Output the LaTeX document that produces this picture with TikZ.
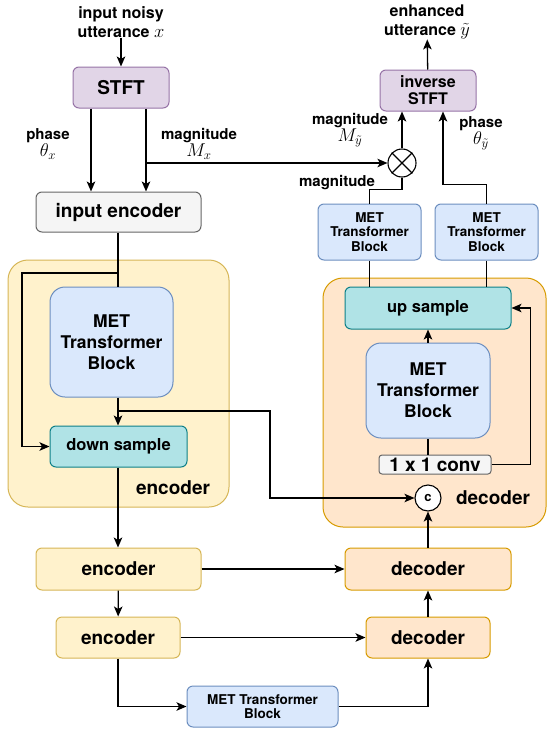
\RequirePackage{fix-cm}
\documentclass[tikz,border=0pt]{standalone}
\usepackage{amsmath}
\usepackage{fontspec}
\setmainfont{TeX Gyre Heros}
\usetikzlibrary{arrows.meta,calc}
\definecolor{stftfill}{HTML}{E1D5E7}
\definecolor{stftline}{HTML}{9673A6}
\definecolor{greyfill}{HTML}{F5F5F5}
\definecolor{greyline}{HTML}{666666}
\definecolor{encfill}{HTML}{FFF2CC}
\definecolor{encline}{HTML}{D6B656}
\definecolor{decfill}{HTML}{FFE6CC}
\definecolor{decline}{HTML}{D79B00}
\definecolor{metfill}{HTML}{DAE8FC}
\definecolor{metline}{HTML}{6C8EBF}
\definecolor{samfill}{HTML}{B0E3E6}
\definecolor{samline}{HTML}{0E8088}
\newcommand{\fs}[1]{\fontsize{#1}{\dimexpr #1pt*6/5\relax}\selectfont\bfseries}
\newcommand{\mth}[1]{{\fontsize{18.5}{20}\selectfont$#1$}}

\tikzset{
  blk/.style={draw,rounded corners=6pt,line width=1pt,inner sep=0pt,align=center},
  arr/.style={-{Stealth[length=10pt,width=8.5pt,inset=2.5pt]}},
  wire/.style={line width=1.3pt},
  lbl/.style={align=center,inner sep=0pt}
}

\begin{document}
\begin{tikzpicture}[x=1pt,y=-1pt]
    \useasboundingbox (0,0) rectangle (550,734);
    % containers
    \node[blk,rounded corners=20pt,fill=encfill,draw=encline,minimum width=221pt,minimum height=247pt] (encbox) at (118.5,383.5) {};
    \node[blk,rounded corners=20pt,fill=decfill,draw=decline,minimum width=223pt,minimum height=249pt] (decbox) at (434.5,402.5) {};
    \node[lbl,font=\fs{19}] (enclbl) at (173,488) {encoder};
    \node[lbl,font=\fs{19}] (declbl) at (493,498) {decoder};

    % top row
    \node[lbl,font=\fs{16}] (intxt) at (121,22) {input noisy\\[0pt]utterance \mth{x}};
    \node[lbl,font=\fs{16}] (outtxt) at (427,22) {enhanced\\[0pt]utterance \mth{\tilde{y}}};
    \node[blk,fill=stftfill,draw=stftline,minimum width=96pt,minimum height=41pt,font=\fs{19}] (stft) at (121,87.5) {STFT};
    \node[blk,fill=stftfill,draw=stftline,minimum width=96pt,minimum height=41pt,font=\fs{16}] (istft) at (428,90.5) {inverse\\[-2pt]STFT};
    \node[blk,fill=greyfill,draw=greyline,minimum width=165pt,minimum height=40pt,font=\fs{19}] (inenc) at (118.5,212) {input encoder};
    \node[lbl,font=\fs{15}] (phx) at (48,144) {phase\\[-1pt]\mth{\theta_x}};
    \node[lbl,font=\fs{15}] (mgx) at (199,144) {magnitude\\[-1pt]\mth{M_x}};
    \node[lbl,font=\fs{15}] (mgy) at (350,130) {magnitude\\[-1pt]\mth{M_{\tilde{y}}}};
    \node[lbl,font=\fs{15}] (phy) at (481,133) {phase\\[-1pt]\mth{\theta_{\tilde{y}}}};
    \node[lbl,font=\fs{15}] (mglbl) at (337,183) {magnitude};
    \node[draw,circle,line width=1.1pt,fill=white,minimum size=28pt,inner sep=0pt] (mul) at (402,163) {};
    \draw[line width=1.1pt] (mul.north west) -- (mul.south east) (mul.north east) -- (mul.south west);
    \node[blk,fill=metfill,draw=metline,minimum width=103pt,minimum height=56pt,font=\fs{13.5}] (metl) at (369.5,232) {MET\\[-2pt]Transformer\\[-2pt]Block};
    \node[blk,fill=metfill,draw=metline,minimum width=103pt,minimum height=56pt,font=\fs{13.5}] (metr) at (486.5,232) {MET\\[-2pt]Transformer\\[-2pt]Block};

    % encoder stage
    \node[blk,rounded corners=15pt,fill=metfill,draw=metline,minimum width=123pt,minimum height=110pt,font=\fs{17.5}] (metenc) at (111.5,342) {MET\\Transformer\\Block};
    \node[blk,fill=samfill,draw=samline,minimum width=137pt,minimum height=41pt,font=\fs{16.5}] (down) at (118.5,446.5) {down sample};

    % decoder stage
    \node[blk,fill=samfill,draw=samline,minimum width=166pt,minimum height=42pt,font=\fs{16.5}] (up) at (428,308) {up sample};
    \node[blk,rounded corners=15pt,fill=metfill,draw=metline,minimum width=124pt,minimum height=95pt,font=\fs{17.5}] (metdec) at (428,390.5) {MET\\Transformer\\Block};
    \node[blk,rounded corners=3pt,fill=greyfill,draw=greyline,minimum width=112pt,minimum height=19pt,font=\fs{19}] (conv) at (435,464.5) {1 x 1 conv};
    \node[draw,circle,line width=1.1pt,fill=white,minimum size=26pt,inner sep=0pt,font=\fs{13}] (cat) at (428,498) {c};

    % lower levels
    \node[blk,fill=encfill,draw=encline,minimum width=165pt,minimum height=42pt,font=\fs{19}] (enc1) at (118.5,569) {encoder};
    \node[blk,fill=encfill,draw=encline,minimum width=124pt,minimum height=41pt,font=\fs{19}] (enc2) at (118,637.5) {encoder};
    \node[blk,fill=decfill,draw=decline,minimum width=166pt,minimum height=42pt,font=\fs{19}] (dec1) at (428,569) {decoder};
    \node[blk,fill=decfill,draw=decline,minimum width=124pt,minimum height=41pt,font=\fs{19}] (dec2) at (428,637.5) {decoder};
    \node[blk,fill=metfill,draw=metline,minimum width=151pt,minimum height=41pt,font=\fs{13.5}] (metbot) at (262.5,706.5) {MET Transformer\\[-2pt]Block};

    \coordinate (phcol) at (91,0);
    \coordinate (mgcol) at (146,0);
    \coordinate (split) at (118,273);
    \coordinate (skip) at (118,411);

    % connectors
    \draw[wire,arr] (intxt) -- (stft);
    \draw[wire,arr] (stft.south -| phcol) -- (inenc.north -| phcol);
    \draw[wire,arr] (stft.south -| mgcol) -- (inenc.north -| mgcol);
    \draw[wire,arr] (mgcol |- mul) -- (mul);
    \draw[wire,arr] (mul) -- (istft.south -| mul);
    \draw[wire,arr] (istft) -- (outtxt);
    \draw[wire] (metl.north) -- ++(0,-14) -| (mul.south);
    \draw[wire,arr] (metr.north) -- ++(0,-19) -| ([xshift=15pt]istft.south);
    \draw[wire] (metl.south) -- (up.north -| metl.south);
    \draw[wire] (metr.south) -- (up.north -| metr.south);

    \draw[wire] (inenc.south -| split) -- (metenc.north -| split);
    \draw[wire,arr] (split) -- ++(-96,0) |- (down.west);
    \draw[wire,arr] (metenc.south -| skip) -- (down.north -| skip);
    \draw[wire,arr] (skip) -- ++(152,0) |- (cat.west);
    \draw[wire,arr] (down.south -| skip) -- (enc1.north -| skip);

    \draw[wire,arr] (metdec) -- (up);
    \draw[wire] (conv.north -| metdec) -- (metdec.south);
    \draw[wire,arr] (conv.east) -- ++(39,0) |- (up.east);
    \draw[wire,arr] (dec1) -- (cat);

    \draw[wire,arr] (enc1) -- (enc2);
    \draw[wire,arr] (enc1) -- (dec1);
    \draw[wire,arr] (enc2) -- (dec2);
    \draw[wire,arr] (enc2) |- (metbot);
    \draw[wire,arr] (metbot) -| (dec2);
    \draw[wire,arr] (dec2) -- (dec1);
  \end{tikzpicture}
\end{document}
